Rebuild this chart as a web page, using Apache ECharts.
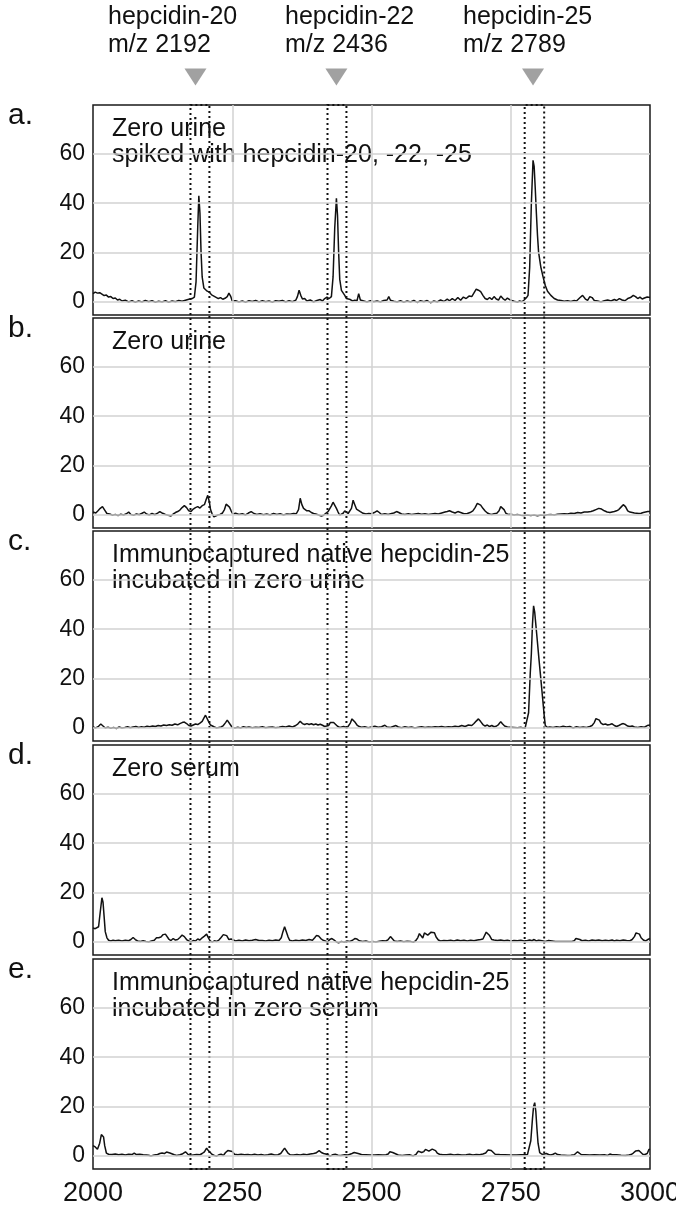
<!DOCTYPE html>
<html><head><meta charset="utf-8">
<script src="https://cdn.jsdelivr.net/npm/echarts@6/dist/echarts.min.js"></script>
<style>html,body{margin:0;padding:0;background:#fff}#c{width:676px;height:1210px}</style>
</head><body><div id="c"></div>
<script>
// ---------- data ----------
const spectrumA = [[2000,3.2],[2004,3.8],[2008,3.4],[2012,3.6],[2016,3.0],[2020,2.4],[2024,2.6],[2028,1.8],[2032,2.0],[2036,1.2],[2040,1.4],[2044,0.6],[2048,0.9],[2052,0.2],[2058,0.5],[2064,-0.2],[2070,0.3],[2076,-0.3],[2082,0.2],[2088,-0.2],[2094,0.4],[2100,-0.1],[2106,0.3],[2112,-0.3],[2118,0.1],[2124,-0.2],[2130,0.3],[2136,-0.3],[2142,0.2],[2148,-0.1],[2154,0.4],[2160,0.1],[2166,0.5],[2172,0.9],[2178,1.2],[2182,1.8],[2185,8],[2188,30],[2190,43],[2192,36],[2194,20],[2196,10],[2199,5.5],[2202,4.8],[2205,4.2],[2209,3.8],[2213,2.7],[2217,2.2],[2221,1.7],[2225,1.2],[2229,1.6],[2233,0.9],[2237,1.3],[2241,2.0],[2244,3.4],[2247,2.2],[2250,0.2],[2256,0.3],[2262,-0.2],[2268,0.2],[2274,-0.3],[2280,0.3],[2286,0],[2292,0.4],[2298,-0.2],[2304,0.3],[2310,-0.1],[2316,0.2],[2322,-0.3],[2328,0.3],[2334,0.1],[2340,0.4],[2346,-0.2],[2352,0.3],[2358,-0.1],[2364,0.5],[2367,2],[2370,4.6],[2373,2.5],[2376,1],[2380,1.2],[2384,0.2],[2390,0.6],[2396,-0.2],[2402,0.4],[2408,0.8],[2412,0.2],[2416,1.2],[2420,1.8],[2424,1.2],[2428,2],[2431,10],[2434,30],[2437,42],[2439,35],[2441,20],[2443,9],[2446,4.5],[2449,3.8],[2452,2.5],[2455,1.2],[2458,0.4],[2462,0.8],[2466,0.2],[2470,0.5],[2474,0.3],[2477,3.2],[2480,0.6],[2486,0.2],[2492,-0.2],[2498,0.3],[2504,-0.1],[2510,0.2],[2516,-0.2],[2522,0.4],[2528,0.6],[2531,2],[2534,0.5],[2540,0.1],[2546,-0.2],[2552,0.3],[2558,-0.3],[2564,0.2],[2570,-0.2],[2576,0.4],[2582,-0.4],[2588,0.3],[2594,-0.1],[2600,0.4],[2606,-0.5],[2612,0.2],[2618,-0.2],[2624,0.6],[2630,0],[2636,1],[2640,0.3],[2645,1.2],[2650,0.4],[2655,1.6],[2660,0.5],[2665,1.8],[2670,1.2],[2675,2.2],[2680,2.0],[2684,3.5],[2688,5],[2692,4.6],[2696,4],[2700,2.5],[2704,1.2],[2708,0.8],[2712,1.6],[2716,0.8],[2720,2],[2724,1],[2728,0.6],[2732,2.2],[2736,1.2],[2740,0.5],[2744,1.4],[2748,0.8],[2752,0.4],[2756,0.1],[2762,-0.3],[2766,0.2],[2770,-0.1],[2774,0.6],[2778,1.5],[2781,2.5],[2784,14],[2787,40],[2790,57.5],[2792,55],[2794,46],[2796,36],[2798,27],[2800,20],[2804,14],[2808,10],[2812,6.5],[2816,4.2],[2822,2.5],[2828,1.2],[2834,0.6],[2840,0.4],[2846,0.1],[2852,0.3],[2858,0],[2864,0.4],[2868,0.2],[2874,1.5],[2879,2.5],[2884,1],[2888,0.5],[2892,2],[2896,1.6],[2900,0.4],[2906,0.2],[2912,-0.2],[2918,0.3],[2924,0.6],[2930,0.2],[2936,0.8],[2940,0.4],[2945,1.2],[2950,0.6],[2955,0.3],[2960,1.2],[2965,1.6],[2970,2.5],[2974,2],[2978,1.2],[2982,1.8],[2986,1],[2990,1.4],[2995,1.8],[3000,1.6]];

const spectrumB = [[2000,1],[2005,0.6],[2009,1.5],[2013,2.5],[2017,3.2],[2021,1.8],[2025,0.4],[2030,0.2],[2035,-0.3],[2040,0],[2045,-0.4],[2050,0.1],[2055,-0.2],[2060,0.3],[2064,1],[2068,0],[2073,-0.3],[2078,0.2],[2083,-0.1],[2088,0.5],[2092,1],[2096,0.2],[2101,-0.2],[2106,0.4],[2111,-0.1],[2116,0.6],[2120,1.2],[2125,0.5],[2130,0],[2135,-0.3],[2140,-0.6],[2144,0.2],[2148,0.8],[2152,1.2],[2156,1.8],[2160,2.8],[2164,3.6],[2168,2.8],[2172,1.5],[2176,1.2],[2180,2.2],[2184,2.8],[2188,3.2],[2192,2.6],[2196,3.6],[2200,4],[2203,6],[2206,7.8],[2209,5],[2211,2],[2214,0.2],[2217,-1],[2220,-0.6],[2224,-0.2],[2228,0],[2232,0.5],[2236,2],[2239,4.2],[2242,5],[2245,3],[2248,1.5],[2251,0.2],[2256,0.5],[2262,0],[2268,0.3],[2274,-0.2],[2279,0.6],[2284,1.2],[2289,0.4],[2294,0],[2300,0.3],[2306,-0.1],[2312,0.2],[2318,-0.2],[2324,0.4],[2330,0],[2336,0.3],[2342,-0.2],[2348,0.2],[2354,0.1],[2360,0.4],[2365,0.3],[2369,2],[2372,6.6],[2375,4],[2378,2.5],[2381,2.2],[2384,1.5],[2388,1.5],[2392,0.8],[2396,0.4],[2400,0.2],[2405,-0.2],[2410,-0.6],[2414,-0.3],[2418,0.5],[2422,1.2],[2425,1.5],[2428,3.5],[2431,5],[2434,4.2],[2437,2.5],[2440,1],[2443,-0.3],[2446,-0.8],[2449,0.5],[2452,1.5],[2455,1.2],[2458,0.4],[2461,0.8],[2464,2.5],[2467,5.8],[2470,4],[2473,2.2],[2476,2],[2480,1.2],[2485,0.5],[2490,0.2],[2495,0.4],[2500,0.3],[2505,0.8],[2510,1.5],[2514,0.8],[2518,0],[2524,0.3],[2530,0],[2536,0.4],[2540,0.6],[2545,1.2],[2549,0.8],[2554,0.2],[2560,0],[2566,0.3],[2572,0],[2578,0.2],[2584,0.4],[2590,0.1],[2596,0.3],[2602,0],[2608,0.2],[2614,0.4],[2620,0.2],[2626,0.6],[2632,1],[2636,1.2],[2640,1.5],[2645,1],[2650,0.6],[2655,1.2],[2660,0.8],[2666,0.3],[2672,0.4],[2677,0.8],[2682,1.5],[2686,2.8],[2690,4.5],[2693,5],[2696,3.8],[2700,2.5],[2704,1.4],[2708,0.6],[2712,0.2],[2716,0],[2720,0.3],[2725,0.5],[2729,1.5],[2732,3.2],[2735,3.5],[2738,2],[2741,0.6],[2745,0],[2750,0.1],[2756,-0.2],[2762,0],[2768,-0.3],[2774,-0.4],[2780,-0.2],[2786,-0.4],[2792,-0.2],[2798,-0.5],[2804,-0.2],[2810,-0.4],[2816,-0.1],[2822,0],[2828,-0.2],[2834,0.1],[2840,0.2],[2846,0.3],[2852,0.2],[2858,0.5],[2864,0.4],[2870,0.8],[2876,0.6],[2882,1],[2888,1],[2894,1.2],[2898,1.5],[2903,2],[2908,2.5],[2913,2.2],[2918,1.5],[2923,1],[2928,0.8],[2932,1],[2936,1.2],[2940,1.5],[2944,2],[2948,3],[2952,4],[2956,3.2],[2960,1.5],[2964,1],[2968,0.8],[2972,0.6],[2976,0.5],[2980,0.4],[2984,0.5],[2988,0.8],[2992,1],[2996,1.2],[3000,1.2]];

const spectrumC = [[2000,0.2],[2005,-0.2],[2010,0.5],[2014,1.4],[2018,0.6],[2022,-0.2],[2027,0.1],[2032,-0.3],[2037,0],[2042,-0.4],[2047,0.2],[2052,-0.2],[2057,0],[2062,0.3],[2067,-0.1],[2072,0.2],[2077,0.4],[2082,0],[2087,0.3],[2092,0.1],[2097,0.5],[2102,0.3],[2107,0.6],[2112,0.4],[2117,0.8],[2122,0.6],[2127,1],[2132,0.8],[2137,1.1],[2142,0.9],[2147,1.4],[2152,1.1],[2156,1.6],[2160,2],[2164,2.2],[2168,1.6],[2172,0.8],[2176,0.6],[2180,1],[2184,1.4],[2188,1.2],[2192,1.8],[2196,2.5],[2199,3.8],[2202,5],[2205,4.2],[2208,2.2],[2211,1],[2214,0.5],[2218,0.2],[2222,-0.2],[2226,0],[2230,0.2],[2234,0.8],[2238,2],[2241,3],[2244,2.5],[2247,1],[2250,0],[2255,-0.2],[2260,0.1],[2265,-0.2],[2270,0.3],[2275,0],[2280,0.2],[2286,-0.1],[2292,0.1],[2298,0],[2304,0.3],[2310,-0.1],[2316,0.1],[2322,0.2],[2328,-0.1],[2334,0.1],[2340,0.4],[2346,0.2],[2352,0.6],[2358,0.2],[2364,0.8],[2368,1.5],[2372,2.5],[2376,1.6],[2380,1.2],[2384,1.6],[2388,1.2],[2392,1.5],[2396,1.1],[2400,1.4],[2404,1],[2408,1.3],[2412,0.9],[2416,0.4],[2419,-0.2],[2423,0.8],[2426,2],[2429,2.6],[2432,2],[2435,1.2],[2439,0.5],[2443,0],[2446,-0.3],[2450,0.4],[2453,0.8],[2456,-0.2],[2459,0.5],[2462,1.8],[2465,3.5],[2468,3.4],[2471,2],[2474,1],[2478,0.4],[2482,0.1],[2488,0.3],[2494,-0.1],[2500,0.2],[2506,0.5],[2512,0.1],[2518,0.3],[2524,0.9],[2528,0.2],[2534,0],[2540,0.5],[2544,0.8],[2548,0.2],[2554,-0.1],[2560,0.3],[2566,0],[2572,0.2],[2578,-0.2],[2584,0.1],[2590,0.3],[2596,0],[2602,0.2],[2608,0.1],[2614,0.3],[2620,0.2],[2626,0.4],[2632,0.1],[2638,0.3],[2644,0.2],[2650,0.5],[2656,0.3],[2662,0.8],[2668,0.4],[2674,1],[2680,0.8],[2684,1.6],[2688,2.6],[2692,3.5],[2696,2.4],[2700,1.2],[2704,0.6],[2708,1],[2712,0.4],[2716,0.8],[2720,0.3],[2724,0.5],[2728,1.2],[2732,2.4],[2735,1.5],[2739,0.6],[2744,0.2],[2750,0.1],[2756,0],[2762,-0.1],[2768,0.1],[2772,-0.2],[2776,0],[2779,0.5],[2782,6],[2785,22],[2787,30],[2789,42],[2791,49.5],[2793,47],[2795,42],[2798,34.5],[2801,27],[2804,19.8],[2807,12.4],[2810,5],[2812,0.8],[2816,0],[2820,0.2],[2826,0],[2832,0.3],[2838,0.1],[2844,0.5],[2850,0.2],[2856,0.4],[2862,-0.2],[2868,0.3],[2874,0],[2880,0.2],[2886,0],[2892,0.4],[2896,0.8],[2900,2],[2903,3.6],[2906,4.2],[2909,3],[2912,1.8],[2916,1.2],[2920,1.4],[2924,1],[2928,1.2],[2932,1.5],[2936,0.8],[2940,0.4],[2944,0.8],[2948,1.3],[2952,1.6],[2956,1.2],[2960,0.6],[2964,0.4],[2968,0.6],[2972,0.2],[2978,0],[2984,0.3],[2990,0.1],[2995,0.8],[3000,1]];

const spectrumD = [[2000,5.5],[2004,5.2],[2007,4.8],[2010,6],[2013,12],[2016,17.8],[2018,16],[2020,10],[2022,4],[2025,1.5],[2028,0.5],[2032,0.2],[2036,0.5],[2040,0.3],[2046,0.5],[2052,0.2],[2058,0.5],[2064,0.3],[2068,0.8],[2072,1.6],[2076,0.8],[2080,0.2],[2085,0],[2090,0.3],[2095,0],[2100,-0.2],[2105,0.2],[2110,0.5],[2114,1.5],[2118,1.5],[2122,1.8],[2126,2.8],[2130,3],[2133,2.5],[2136,1],[2140,0.4],[2144,1.2],[2148,0.6],[2152,0.8],[2156,1.6],[2160,2.6],[2164,2],[2168,0.8],[2172,0.2],[2176,-0.2],[2180,0.4],[2184,0.2],[2188,1],[2192,0.6],[2196,1.5],[2200,2.2],[2204,3],[2207,1.6],[2210,0.4],[2214,-0.3],[2218,0.3],[2222,0],[2226,0.6],[2230,1.6],[2234,2.8],[2237,3.5],[2240,2.4],[2244,0.8],[2248,1],[2252,0.6],[2256,0.2],[2262,0.5],[2268,0.2],[2274,0.6],[2280,0.3],[2286,0.5],[2292,0.8],[2298,0.4],[2304,0.4],[2310,0.2],[2316,0.5],[2322,0.3],[2328,0.6],[2334,0.4],[2338,1.5],[2341,4],[2344,6],[2347,5.5],[2350,2],[2353,0.5],[2358,0.2],[2364,0.5],[2370,0.3],[2376,0.6],[2382,0.4],[2388,0.8],[2394,0.5],[2398,1.5],[2401,2.4],[2405,2.2],[2409,1.2],[2413,0.5],[2417,0.2],[2421,-0.3],[2425,0.8],[2429,1.2],[2433,0.6],[2437,-0.2],[2441,-0.5],[2446,0],[2451,-0.3],[2456,0.2],[2461,0],[2466,0.5],[2470,1.2],[2474,1],[2478,0.3],[2484,0],[2490,0.2],[2496,-0.2],[2502,0],[2508,-0.2],[2514,0.1],[2520,0.3],[2526,0.2],[2530,0.8],[2534,2],[2537,1.2],[2541,0.2],[2546,0],[2552,0.2],[2558,-0.1],[2564,0.1],[2570,0],[2575,-0.3],[2579,0.2],[2583,1.5],[2586,3.2],[2589,2.5],[2592,1.4],[2595,3.5],[2598,4],[2601,2.6],[2604,2.2],[2607,3.8],[2610,4.2],[2613,3.6],[2616,1.8],[2620,0.6],[2624,0.2],[2630,0.4],[2636,0.3],[2642,0.5],[2648,0.2],[2654,0.6],[2660,0.3],[2666,0.5],[2672,0.2],[2678,0.5],[2684,0.3],[2690,0.6],[2696,0.8],[2700,1],[2703,1.5],[2706,3.8],[2709,4],[2712,2.4],[2716,0.8],[2720,0.6],[2726,0.4],[2732,0.6],[2738,0.3],[2744,0.5],[2750,0.2],[2756,0.4],[2762,0.3],[2768,0.5],[2774,0.2],[2780,0.4],[2784,0.6],[2788,0.3],[2792,0.8],[2796,0.2],[2800,0.5],[2806,0.3],[2812,0],[2818,0.4],[2824,0.2],[2830,0],[2836,0],[2842,0],[2848,0],[2854,0],[2860,0],[2864,0.3],[2867,1.2],[2870,1.6],[2874,0.8],[2878,0.3],[2884,0.5],[2890,0.2],[2896,0.6],[2902,0.4],[2908,0.6],[2914,0.3],[2920,0.5],[2926,0.3],[2932,0.6],[2936,0.2],[2940,0.5],[2946,0.3],[2952,0.6],[2958,0.4],[2964,0.3],[2968,0.8],[2972,2],[2975,3.5],[2978,4],[2981,3],[2984,1.5],[2988,0.6],[2992,0.2],[2996,0.8],[3000,1.2]];

const spectrumE = [[2000,4],[2004,3.5],[2008,2.5],[2012,5],[2015,8.5],[2017,9],[2019,7.5],[2021,4],[2024,1],[2028,0.5],[2034,0.4],[2040,0.6],[2046,0.3],[2052,0.5],[2058,0.2],[2064,0.5],[2070,0.4],[2074,1],[2078,0.4],[2084,0.5],[2090,0.3],[2096,0.2],[2100,0.1],[2104,-0.2],[2110,0.2],[2116,0.4],[2120,0.8],[2124,1],[2128,0.8],[2132,1.4],[2135,2],[2138,1],[2141,0.5],[2146,0.3],[2150,0],[2156,0.3],[2160,0.6],[2163,1.2],[2166,1.5],[2170,0.6],[2174,0],[2180,0.2],[2186,0.4],[2192,0.3],[2196,0.8],[2200,1.5],[2204,3],[2207,2],[2210,1.2],[2214,0.4],[2218,0],[2222,-0.3],[2226,0.3],[2230,0.5],[2234,0],[2238,1.2],[2242,2],[2246,1.8],[2250,1.6],[2254,0.5],[2260,0.3],[2266,0.5],[2272,0.3],[2278,0.4],[2284,0.2],[2290,0.5],[2296,0.2],[2302,0.4],[2308,0.1],[2314,0.3],[2320,0.6],[2326,0.2],[2332,0.3],[2337,0.8],[2340,1.5],[2344,3],[2347,2.6],[2350,1],[2354,0.3],[2360,0.2],[2366,0.4],[2372,0.2],[2378,0.5],[2384,0.3],[2390,0.6],[2396,0.8],[2400,1],[2403,1.6],[2406,2],[2410,1.2],[2414,0.8],[2418,0.6],[2422,0.2],[2426,-0.3],[2430,0.3],[2435,0.5],[2440,0.1],[2445,0],[2452,0.3],[2458,0.2],[2465,0.8],[2469,1.2],[2472,1.5],[2476,0.8],[2482,0.4],[2490,0.3],[2498,0.2],[2505,0.2],[2512,0.3],[2520,0.2],[2526,0.3],[2530,0.6],[2533,1.5],[2535,2],[2538,1.2],[2541,0.4],[2548,0.2],[2555,0],[2562,0.2],[2568,0.3],[2575,-0.2],[2580,0.5],[2584,1.8],[2587,2],[2590,1.2],[2594,1.6],[2597,2.5],[2600,2.2],[2603,1.8],[2606,2.2],[2609,2.6],[2612,3],[2615,2],[2618,1],[2622,0.5],[2628,0.3],[2635,0.3],[2642,0.5],[2648,0.2],[2655,0.4],[2662,0.2],[2670,0.3],[2676,0.5],[2682,0.2],[2688,0.4],[2694,0.3],[2700,0.6],[2705,1],[2709,2.2],[2712,3],[2715,2],[2718,1.2],[2722,0.5],[2730,0.4],[2740,0.3],[2750,0.2],[2760,0.2],[2768,0.3],[2775,0.3],[2780,0.4],[2783,0.5],[2786,6],[2789,15],[2791,20],[2793,21.5],[2795,18],[2797,11],[2799,5],[2802,1.2],[2806,0.5],[2810,0.6],[2814,0.8],[2818,0.4],[2822,0.2],[2826,0.5],[2830,1],[2834,0.4],[2840,0.2],[2846,0.1],[2852,0],[2858,0.1],[2864,0.3],[2867,1],[2870,1.5],[2873,0.8],[2877,0.3],[2884,0.3],[2892,0.2],[2900,0.3],[2910,0.2],[2918,0.3],[2924,0],[2928,0.6],[2932,0.3],[2940,0.3],[2948,0.1],[2956,0],[2962,0.2],[2966,0.4],[2970,1],[2974,1.8],[2977,2.5],[2980,2],[2983,1.2],[2987,0.5],[2991,0.4],[2995,0.8],[2998,2.4],[3000,2.5]];

const panelLetters = ['a.', 'b.', 'c.', 'd.', 'e.'];
const panelTitles = [
  'Zero urine\nspiked with hepcidin-20, -22, -25',
  'Zero urine',
  'Immunocaptured native hepcidin-25\nincubated in zero urine',
  'Zero serum',
  'Immunocaptured native hepcidin-25\nincubated in zero serum'
];
const peakLabels = ['hepcidin-20\nm/z 2192', 'hepcidin-22\nm/z 2436', 'hepcidin-25\nm/z 2789'];
const markerMz = [2184, 2437, 2790];
const windowMz = [[2175, 2209], [2421, 2455], [2775, 2810]];
const xTicks = [2000, 2250, 2500, 2750, 3000];
const xGridLines = [2250, 2500, 2750];
const yTicks = [0, 20, 40, 60];

// ---------- layout ----------
const spectra = [spectrumA, spectrumB, spectrumC, spectrumD, spectrumE];
const X_MIN = 2000, X_MAX = 3000, Y_MIN = -5.5, Y_MAX = 80;
const LEFT = 93, RIGHT = 26, PANEL_H = 210;
const panelTops = [105, 318, 531, 745, 959];
const FONT = '"Liberation Sans", Arial, Helvetica, sans-serif';

const grid = [], xAxis = [], yAxis = [], series = [], graphic = [];

panelTops.forEach((top, i) => {
  grid.push({ left: LEFT, right: RIGHT, top: top, height: PANEL_H, show: true,
    outerBoundsMode: 'none', containLabel: false,
    borderColor: '#1a1a1a', borderWidth: 1.5, backgroundColor: 'transparent' });
  const last = i === panelTops.length - 1;
  xAxis.push({ type: 'value', gridIndex: i, min: X_MIN, max: X_MAX,
    axisLine: { show: false }, axisTick: { show: false }, splitLine: { show: false },
    axisLabel: last ? { show: true, customValues: xTicks, fontSize: 27, color: '#111',
      fontFamily: FONT, margin: 11, formatter: v => String(v) } : { show: false } });
  yAxis.push({ type: 'value', gridIndex: i, min: Y_MIN, max: Y_MAX,
    axisLine: { show: false }, axisTick: { show: false }, splitLine: { show: false },
    axisLabel: { show: true, customValues: yTicks, fontSize: 23, color: '#111',
      fontFamily: FONT, margin: 8, formatter: v => String(v) } });
  // grid lines
  series.push({ type: 'line', xAxisIndex: i, yAxisIndex: i, data: [], z: 1, silent: true,
    markLine: { silent: true, symbol: ['none', 'none'], label: { show: false },
      animation: false,
      lineStyle: { color: '#d2d2d2', width: 1.5, type: 'solid' },
      data: xGridLines.map(v => ({ xAxis: v })).concat(yTicks.map(v => ({ yAxis: v }))) } });
  // spectrum
  series.push({ type: 'line', xAxisIndex: i, yAxisIndex: i, data: spectra[i], z: 3,
    showSymbol: false, symbol: 'none', silent: true, clip: true,
    lineStyle: { color: '#111', width: 1.5 } });
  graphic.push({ type: 'text', left: 8, top: top - 4,
    style: { text: panelLetters[i], font: '30px ' + FONT, fill: '#111' } });
  graphic.push({ type: 'text', left: 112, top: top + 11,
    style: { text: panelTitles[i], font: '25px ' + FONT, fill: '#111', lineHeight: 26 } });
});

// overlay grid for dotted windows spanning all panels
const OV = panelTops.length;
const ovTop = panelTops[0], ovBottom = panelTops[panelTops.length - 1] + PANEL_H;
grid.push({ left: LEFT, right: RIGHT, top: ovTop, height: ovBottom - ovTop, show: false,
  outerBoundsMode: 'none', containLabel: false });
xAxis.push({ type: 'value', gridIndex: OV, min: X_MIN, max: X_MAX, show: false });
yAxis.push({ type: 'value', gridIndex: OV, min: 0, max: 1, show: false });
series.push({ type: 'line', xAxisIndex: OV, yAxisIndex: OV, data: [], z: 5, silent: true,
  markArea: { silent: true, animation: false,
    itemStyle: { color: 'rgba(0,0,0,0)', borderColor: '#111', borderWidth: 2, borderType: [2, 3] },
    data: windowMz.map(w => [{ xAxis: w[0] }, { xAxis: w[1] }]) } });

// header grid for the triangles
const HD = OV + 1;
grid.push({ left: LEFT, right: RIGHT, top: 68, height: 18, show: false,
  outerBoundsMode: 'none', containLabel: false });
xAxis.push({ type: 'value', gridIndex: HD, min: X_MIN, max: X_MAX, show: false });
yAxis.push({ type: 'value', gridIndex: HD, min: 0, max: 1, show: false });
series.push({ type: 'scatter', xAxisIndex: HD, yAxisIndex: HD, silent: true,
  data: markerMz.map(v => [v, 0.5]), symbol: 'triangle', symbolRotate: 180,
  symbolSize: [22, 17], itemStyle: { color: '#8a8a8a' } });

const labelLefts = [108, 285, 463];
peakLabels.forEach((t, k) => {
  graphic.push({ type: 'text', left: labelLefts[k], top: 3,
    style: { text: t, font: '25px ' + FONT, fill: '#111', lineHeight: 28 } });
});

const chart = echarts.init(document.getElementById('c'), null, { renderer: 'canvas' });
chart.setOption({ animation: false, backgroundColor: '#fff', grid, xAxis, yAxis, series, graphic });
</script></body></html>
